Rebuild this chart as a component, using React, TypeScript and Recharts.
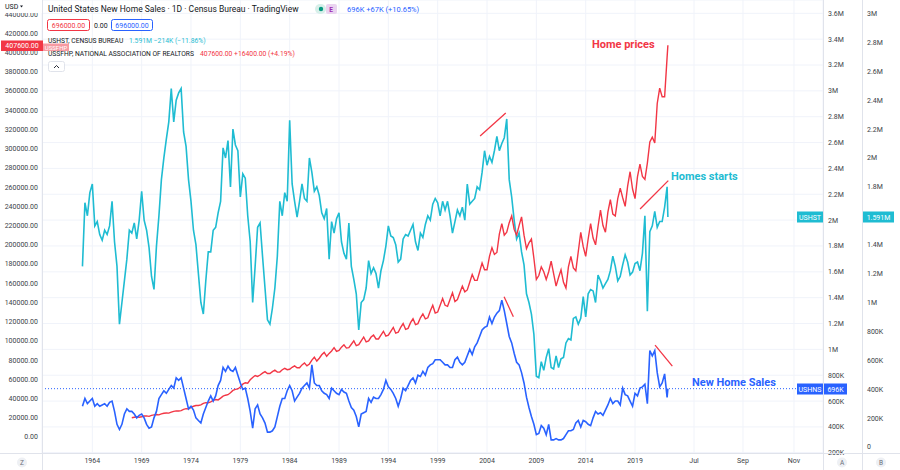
import React from "react";
import {
  ComposedChart,
  Line,
  XAxis,
  YAxis,
  CartesianGrid,
  ReferenceLine,
} from "recharts";

const startYear = 1963;
const priceStartYear = 1968;

// USHST, thousands of units, one reading per quarter from 1963
const housingStarts = [
  1250, 1690, 1600, 1760, 1820, 1530, 1560, 1470, 1430, 1500, 1470, 1530,
  1700, 1420, 1250, 850, 1000, 1150, 1300, 1500, 1480, 1550, 1440, 1570,
  1770, 1570, 1500, 1380, 1180, 1090, 1390, 1600, 1850, 2000, 2130, 2250,
  2480, 2250, 2400, 2450, 2480, 2180, 2080, 1850, 1700, 1500, 1400, 1200,
  1000, 920, 1150, 1350, 1350, 1500, 1520, 1620, 1700, 2070, 2000, 2120,
  1800, 2200, 2090, 2050, 1730, 1890, 1860, 1600, 1420, 1000, 1250, 1520,
  1550, 1320, 1100, 880, 850, 960, 1100, 1320, 1700, 1600, 1760, 1700,
  2260, 1820, 1700, 1590, 1700, 1820, 1720, 1700, 2000, 1900, 1770, 1800,
  1740, 1620, 1580, 1650, 1300, 1560, 1480, 1580, 1620, 1420, 1340, 1300,
  1550, 1250, 1160, 1060, 810, 1000, 1020, 1100, 1290, 1200, 1240, 1200,
  1100, 1220, 1290, 1390, 1530, 1460, 1450, 1400, 1280, 1300, 1440, 1470,
  1460, 1500, 1540, 1420, 1360, 1480, 1450, 1540, 1600, 1570, 1680, 1720,
  1690, 1600, 1700, 1640, 1700, 1600, 1480, 1560, 1640, 1600, 1660, 1570,
  1820, 1680, 1700, 1720, 1800, 1780, 1900, 2050, 1950, 2010, 1970, 2050,
  2150, 2050, 2100, 2140, 2270, 1850, 1730, 1570, 1440, 1480, 1350, 1260,
  1060, 1000, 920, 780, 490, 480, 590, 530, 620, 680, 550, 540,
  630, 550, 610, 620, 720, 750, 740, 890, 900, 850, 890, 1040,
  900, 1060, 1090, 1080, 1000, 1190, 1150, 1100, 1130, 1160, 1220, 1320,
  1250, 1150, 1180, 1260, 1330, 1280, 1190, 1210, 1270, 1280, 1220, 1340,
  1600, 940, 1490, 1530, 1630, 1520, 1560, 1560, 1660, 1800,
];

// USHNS, thousands of units, same quarters
const newHomeSales = [
  560, 620, 580, 600, 620, 560, 580, 560, 570, 580, 560, 590,
  600, 520, 420, 380, 420, 500, 540, 520, 520, 500, 470, 490,
  500, 470, 420, 390, 400, 470, 520, 620, 650, 680, 660, 690,
  720, 700, 780, 760, 780, 700, 620, 540, 560, 530, 470, 450,
  430, 500, 550, 600, 640, 600, 640, 720, 760, 860, 830, 870,
  840, 830, 860, 800, 740, 690, 700, 620, 520, 390, 540, 570,
  500, 470, 430, 360, 360, 370, 400, 480, 560, 620, 620, 680,
  720, 680, 600, 630, 660, 700, 720, 740, 700, 880, 740, 720,
  720, 680, 660, 650, 620, 700, 680, 660, 650, 690, 670, 660,
  600, 550, 530, 480, 400, 500, 510, 520, 620, 590, 630, 620,
  620, 650, 690, 760, 710, 690, 660, 620, 560, 620, 700, 680,
  720, 760, 780, 740, 800, 790, 830, 800, 860, 880, 890, 920,
  920, 920, 900, 880, 880, 860, 860, 920, 940, 900, 880, 900,
  950, 1000, 960, 1020, 1050, 1100, 1150, 1170, 1180, 1250, 1200, 1250,
  1280, 1300, 1380, 1300, 1200, 1100, 1050, 970, 900, 880, 820, 740,
  630, 550, 480, 420, 340, 350, 410, 390, 340, 420, 300, 300,
  310, 300, 300, 310, 340, 370, 370, 380, 430, 450, 400, 450,
  440, 420, 410, 470, 520, 500, 510, 490, 530, 570, 620, 580,
  600, 600, 570, 700, 650, 640, 600, 560, 660, 640, 700, 710,
  730, 580, 990, 950, 990, 820, 710, 740, 810, 629,
];

// USSFHP median price, thousands of USD, quarters from 1968
const homePrices = [
  20.0, 20.5, 21.0, 20.6, 21.0, 21.8, 22.0, 21.5, 22.5, 23.0, 23.4, 23.0,
  24.0, 24.7, 25.0, 24.8, 25.8, 26.7, 27.2, 27.0, 27.5, 28.8, 29.5, 29.2,
  30.8, 32.0, 32.8, 32.8, 33.5, 35.0, 35.8, 35.5, 36.5, 38.1, 39.0, 38.6,
  40.5, 42.5, 43.5, 44.0, 46.0, 48.5, 49.5, 50.0, 52.0, 55.0, 56.5, 56.0,
  59.5, 62.0, 64.0, 63.0, 64.5, 66.5, 68.0, 66.0, 66.0, 68.0, 69.5, 67.5,
  67.5, 70.0, 71.5, 70.0, 70.5, 72.5, 74.0, 72.0, 72.0, 75.0, 77.0, 74.0,
  76.0, 80.0, 83.0, 79.0, 82.0, 85.5, 88.0, 84.0, 87.0, 89.5, 93.0, 89.0,
  90.0, 93.5, 96.0, 92.5, 93.0, 96.5, 100.0, 95.0, 96.0, 100.0, 104.0, 99.0,
  100.0, 104.0, 106.0, 102.0, 102.0, 106.0, 110.0, 105.0, 106.0, 110.0, 114.0, 108.0,
  109.0, 114.0, 118.0, 112.0, 113.0, 119.0, 123.0, 117.0, 118.0, 124.0, 128.0, 123.0,
  124.0, 131.0, 137.0, 129.0, 130.0, 137.0, 144.0, 137.0, 136.0, 143.0, 150.0, 141.0,
  143.0, 150.0, 157.0, 151.0, 153.0, 161.0, 169.0, 163.0, 163.0, 172.0, 181.0, 174.0,
  174.0, 188.0, 197.0, 190.0, 192.0, 211.0, 222.0, 210.0, 213.0, 223.0, 230.0, 216.0,
  210.0, 220.0, 229.0, 210.0, 196.0, 202.0, 206.0, 186.0, 164.0, 168.0, 177.0, 172.0,
  164.0, 172.0, 183.0, 170.0, 157.0, 166.0, 174.0, 161.0, 155.0, 177.0, 188.0, 176.0,
  173.0, 193.0, 213.0, 198.0, 188.0, 206.0, 222.0, 207.0, 200.0, 219.0, 236.0, 220.0,
  213.0, 234.0, 247.0, 232.0, 230.0, 248.0, 259.0, 249.0, 240.0, 261.0, 276.0, 258.0,
  248.0, 271.0, 284.0, 271.0, 268.0, 285.0, 307.0, 312.0, 306.0, 347.0, 363.0, 354.0,
  354.0, 395.0,
];

// May 2022 reading
const lastDate = 2022.33;
const lastStarts = 1591;
const lastSales = 696;
const lastPrice = 407.6;

const timeTicks = [
  1964, 1969, 1974, 1979, 1984, 1989, 1994, 1999, 2004, 2009, 2014, 2019,
  2024.98, 2029.94, 2035.11,
];
const timeLabels = [
  "1964", "1969", "1974", "1979", "1984", "1989", "1994", "1999", "2004",
  "2009", "2014", "2019", "Jul", "Sep", "Nov",
];
const priceTicks = [
  0, 20, 40, 60, 80, 100, 120, 140, 160, 180, 200, 220, 240, 260, 280, 300,
  320, 340, 360, 380, 400, 420, 440,
];
const salesTicks = [
  200, 400, 600, 800, 1000, 1200, 1400, 1600, 1800, 2000, 2200, 2400, 2600,
  2800, 3000, 3200, 3400, 3600,
];
// 1.6M sits under the last-value badge, so it is not drawn
const startsTicks = [
  0, 200, 400, 600, 800, 1000, 1200, 1400, 1800, 2000, 2200, 2400,
  2600, 2800, 3000,
];

// hand-drawn trend strokes: [x1, y1, x2, y2] in data units
const startsStrokes = [
  [2003.3, 2152, 2005.9, 2311],
  [2019.51, 1647, 2022.37, 1843],
];
const salesStrokes = [
  [2005.73, 1407, 2006.67, 1252],
  [2021.03, 1033, 2022.78, 871],
];

const data = housingStarts.map((starts, i) => {
  const p = i - (priceStartYear - startYear) * 4;
  return {
    t: startYear + i / 4,
    starts,
    sales: newHomeSales[i],
    price: p >= 0 ? homePrices[p] : null,
  };
});
data.push({ t: lastDate, starts: lastStarts, sales: lastSales, price: lastPrice });

const RED = "#f23645";
const CYAN = "#1fbcd2";
const BLUE = "#2962ff";
const TEXT = "#131722";
const BORDER = "#e0e3eb";
const FONT = "Roboto, 'Noto Sans', sans-serif";

const fmtUnits = (v: number) =>
  v === 0 ? "0" : v >= 1000 ? `${+(v / 1000).toFixed(1)}M` : `${v}K`;
const fmtPrice = (v: number) => (v * 1000).toFixed(2);

const axisTick = { fontSize: 7, fill: "#3c3f48", fontFamily: FONT };

function Badge({ x, y, w, text, fill }: { x: number; y: number; w: number; text: string; fill: string }) {
  return (
    <g>
      <rect x={x} y={y} width={w} height={11} fill={fill} />
      <text x={x + w / 2} y={y + 8} fontSize={7} fill="#fff" textAnchor="middle">
        {text}
      </text>
    </g>
  );
}

export default function App() {
  return (
    <div
      style={{
        position: "absolute",
        left: 0,
        top: 0,
        width: 900,
        height: 470,
        background: "#fff",
        fontFamily: FONT,
      }}
    >
      <ComposedChart
        width={900}
        height={470}
        data={data}
        margin={{ top: 0, right: 0, bottom: 0, left: 0 }}
      >
        <CartesianGrid xAxisId="t" yAxisId="sales" stroke="#f0f3fa" />
        <XAxis
          xAxisId="t"
          dataKey="t"
          type="number"
          domain={[1958.9, 2038.05]}
          allowDataOverflow
          ticks={timeTicks}
          interval={0}
          tickFormatter={(_v: number, i: number) => timeLabels[i]}
          height={17}
          tickLine={false}
          tickSize={0}
          tickMargin={5}
          axisLine={false}
          tick={axisTick}
        />
        <YAxis
          yAxisId="price"
          orientation="left"
          width={42}
          type="number"
          domain={[-16.65, 454.7]}
          allowDataOverflow
          ticks={priceTicks}
          interval={0}
          tickFormatter={fmtPrice}
          tickLine={false}
          tickSize={0}
          tickMargin={4}
          axisLine={false}
          tick={axisTick}
        />
        <YAxis
          yAxisId="sales"
          orientation="right"
          width={39}
          type="number"
          domain={[198.2, 3703]}
          allowDataOverflow
          ticks={salesTicks}
          interval={0}
          tickFormatter={fmtUnits}
          tickLine={false}
          tickSize={0}
          tickMargin={5}
          axisLine={false}
          tick={axisTick}
        />
        <YAxis
          yAxisId="starts"
          orientation="right"
          width={38}
          type="number"
          domain={[-41.5, 3093]}
          allowDataOverflow
          ticks={startsTicks}
          interval={0}
          tickFormatter={fmtUnits}
          tickLine={false}
          tickSize={0}
          tickMargin={5}
          axisLine={false}
          tick={axisTick}
        />
        <ReferenceLine
          xAxisId="t"
          yAxisId="sales"
          y={lastSales}
          stroke={BLUE}
          strokeDasharray="1 2"
          strokeWidth={1}
        />
        <Line
          xAxisId="t"
          yAxisId="starts"
          dataKey="starts"
          stroke={CYAN}
          strokeWidth={1.6}
          dot={false}
          isAnimationActive={false}
        />
        <Line
          xAxisId="t"
          yAxisId="price"
          dataKey="price"
          stroke={RED}
          strokeWidth={1.4}
          dot={false}
          isAnimationActive={false}
        />
        <Line
          xAxisId="t"
          yAxisId="sales"
          dataKey="sales"
          stroke={BLUE}
          strokeWidth={1.6}
          dot={false}
          isAnimationActive={false}
        />
        {startsStrokes.map(([x1, y1, x2, y2], i) => (
          <ReferenceLine
            key={`s${i}`}
            xAxisId="t"
            yAxisId="starts"
            segment={[{ x: x1, y: y1 }, { x: x2, y: y2 }]}
            stroke={RED}
            strokeWidth={1.3}
          />
        ))}
        {salesStrokes.map(([x1, y1, x2, y2], i) => (
          <ReferenceLine
            key={`n${i}`}
            xAxisId="t"
            yAxisId="sales"
            segment={[{ x: x1, y: y1 }, { x: x2, y: y2 }]}
            stroke={RED}
            strokeWidth={1.3}
          />
        ))}
      </ComposedChart>

      <svg
        width={900}
        height={470}
        style={{ position: "absolute", left: 0, top: 0, pointerEvents: "none" }}
        fontFamily={FONT}
      >
        {/* scale borders */}
        <line x1={42.5} y1={0} x2={42.5} y2={470} stroke={BORDER} />
        <line x1={823.5} y1={0} x2={823.5} y2={470} stroke={BORDER} />
        <line x1={862.5} y1={0} x2={862.5} y2={470} stroke={BORDER} />
        <line x1={0} y1={453.5} x2={900} y2={453.5} stroke={BORDER} />

        {/* currency selector */}
        <rect x={0} y={0} width={42} height={13} fill="#fff" />
        <text x={5} y={9} fontSize={7} fill={TEXT}>USD</text>
        <path d="M20 5.5 L23 5.5 L21.5 7.5 Z" fill={TEXT} />

        {/* legend */}
        <text x={48} y={12} fontSize={8.5} fill={TEXT}>
          United States New Home Sales · 1D · Census Bureau · TradingView
        </text>
        <rect x={315} y={4} width={11} height={10} rx={5} fill="#d7efe9" />
        <rect x={326} y={4} width={11} height={10} rx={2} fill="#ead3f0" />
        <circle cx={321} cy={9} r={2.2} fill="#089981" />
        <text x={331} y={11.5} fontSize={6.5} fill="#9c27b0" textAnchor="middle" fontWeight="bold">E</text>
        <text x={347} y={12} fontSize={7.5} fill={BLUE}>696K +67K (+10.65%)</text>

        <rect x={47.5} y={19.5} width={42} height={11} rx={2} fill="#fff" stroke={RED} />
        <text x={68.5} y={27.5} fontSize={7} fill={RED} textAnchor="middle">696000.00</text>
        <text x={94} y={27.5} fontSize={7} fill={TEXT}>0.00</text>
        <rect x={111.5} y={19.5} width={41} height={11} rx={2} fill="#fff" stroke={BLUE} />
        <text x={132} y={27.5} fontSize={7} fill={BLUE} textAnchor="middle">696000.00</text>

        <rect x={1} y={40.5} width={42} height={10.5} fill={RED} />
        <text x={22} y={48.3} fontSize={7} fill="#fff" textAnchor="middle">407600.00</text>
        <rect x={43} y={43.5} width={26} height={7.5} fill="#f79aa2" />
        <text x={56} y={49.8} fontSize={6} fill="#fff" textAnchor="middle">USSFHP</text>

        <text x={48} y={43} fontSize={6.7} fill={TEXT}>USHST, CENSUS BUREAU</text>
        <text x={129} y={43} fontSize={6.8} fill={CYAN}>1.591M −214K (−11.86%)</text>

        <text x={48} y={56} fontSize={6.7} fill={TEXT}>USSFHP, NATIONAL ASSOCIATION OF REALTORS</text>
        <text x={200} y={56} fontSize={6.8} fill={RED}>407600.00 +16400.00 (+4.19%)</text>

        <rect x={48.5} y={61.5} width={16} height={10} rx={2} fill="#fff" stroke={BORDER} />
        <path d="M54 68 L56.5 65.5 L59 68" fill="none" stroke={TEXT} strokeWidth={0.9} />

        {/* last value badges */}
        <Badge x={797} y={211.5} w={26} text="USHST" fill={CYAN} />
        <Badge x={863} y={211.5} w={31} text="1.591M" fill={CYAN} />
        <Badge x={797} y={383.5} w={26} text="USHNS" fill={BLUE} />
        <Badge x={824} y={383.5} w={23} text="696K" fill={BLUE} />

        {/* annotations */}
        <text x={592} y={48} fontSize={11} fontWeight="bold" fill={RED}>Home prices</text>
        <text x={671} y={180} fontSize={11} fontWeight="bold" fill={CYAN}>Homes starts</text>
        <text x={692} y={386} fontSize={11} fontWeight="bold" fill={BLUE}>New Home Sales</text>

        {/* scale buttons */}
        <circle cx={22} cy={462.5} r={5} fill="#eef0f4" />
        <text x={22} y={465} fontSize={6.5} fill="#6a6d78" textAnchor="middle">Z</text>
        <circle cx={842} cy={462.5} r={5} fill="#eef0f4" />
        <text x={842} y={465} fontSize={6.5} fill="#6a6d78" textAnchor="middle">A</text>
        <circle cx={881} cy={462.5} r={5} fill="#eef0f4" />
        <text x={881} y={465} fontSize={6.5} fill="#6a6d78" textAnchor="middle">B</text>
      </svg>
    </div>
  );
}
